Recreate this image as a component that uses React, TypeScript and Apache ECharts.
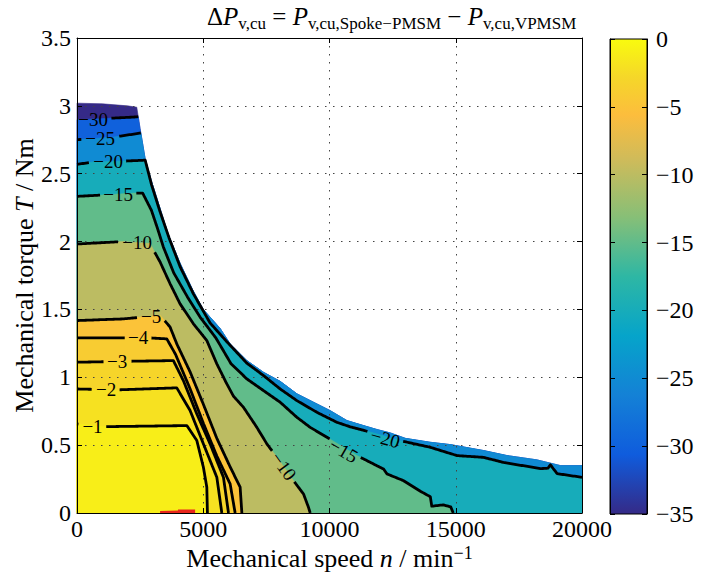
import React, { useEffect, useRef } from "react";
import * as echarts from "echarts";

const FONT = '"Liberation Serif", "DejaVu Serif", "Times New Roman", serif';

// ---- axes ----
const speedRange = [0, 20000];
const speedStep = 5000;
const torqueRange = [0, 3.5];
const torqueStep = 0.5;
const colorRange = [-35, 0];
const colorStep = 5;

// ---- colormap (parula) ----
const parulaStops: [number, string][] = [
  [0, "#352a87"],
  [0.125, "#0f5cdd"],
  [0.25, "#1481d6"],
  [0.375, "#06a4ca"],
  [0.5, "#2eb7a4"],
  [0.625, "#87bf77"],
  [0.75, "#d1bb59"],
  [0.84, "#fcbd3d"],
  [0.92, "#f5d729"],
  [1, "#f9fb0e"],
];

// ---- contour data: [speed n (1/min), torque T (Nm)] ----
const envelope = [
  [0, 3.02], [1000, 3.015], [2000, 3.0], [2367, 2.99], [2497, 2.834], [2696, 2.613],
  [2961, 2.438], [3290, 2.244], [3600, 2.06], [4083, 1.84], [4580, 1.645], [5000, 1.5],
  [5669, 1.36], [6065, 1.246], [6727, 1.123], [7385, 1.037], [8047, 0.97], [8709, 0.878],
  [9367, 0.816], [10029, 0.754], [10691, 0.681], [11349, 0.644], [11880, 0.615],
  [12407, 0.59], [13000, 0.55], [13993, 0.521], [14786, 0.504], [16106, 0.46],
  [17033, 0.423], [18222, 0.391], [19146, 0.349], [20000, 0.349],
];
const line30 = [[0, 2.898], [900, 2.905], [2232, 2.917], [2425, 2.92]];
const line25 = [[0, 2.751], [400, 2.755], [1439, 2.77], [2367, 2.795], [2528, 2.8]];
const line20 = [
  [0, 2.569], [646, 2.586], [1835, 2.593], [2500, 2.598], [2700, 2.6], [2950, 2.42],
  [3280, 2.225], [3650, 2.025], [4083, 1.815], [4610, 1.615], [5272, 1.4], [5934, 1.262],
  [6727, 1.104], [7385, 1.013], [8047, 0.914], [8709, 0.828], [9502, 0.742], [10295, 0.668],
  [10822, 0.635], [11615, 0.596], [12804, 0.533], [13993, 0.484], [15051, 0.423],
  [16094, 0.41], [16887, 0.373], [18353, 0.327], [18650, 0.33], [18750, 0.355],
  [18850, 0.33], [19016, 0.29], [20000, 0.263],
];
const line15 = [
  [0, 2.333], [1200, 2.345], [2300, 2.357], [2600, 2.357], [2950, 2.229], [3200, 2.09],
  [3420, 1.96], [3830, 1.77], [4380, 1.59], [4880, 1.442], [5500, 1.29], [6100, 1.1],
  [6727, 0.988], [7385, 0.902], [8047, 0.816], [8709, 0.705], [9236, 0.631], [9898, 0.558],
  [10500, 0.49], [11087, 0.423], [11745, 0.361], [12142, 0.324], [12277, 0.288],
  [12935, 0.238], [13600, 0.16], [13993, 0.12], [14050, 0.05], [14500, 0.06],
  [14800, 0.045], [14900, 0],
];
const line10 = [
  [0, 1.982], [1800, 2.0], [2900, 1.985], [3050, 1.93], [3290, 1.85], [3687, 1.689],
  [4083, 1.541], [4610, 1.394], [5141, 1.271], [5538, 1.099], [5934, 0.951], [6200, 0.86],
  [6592, 0.779], [7123, 0.631], [7520, 0.509], [8000, 0.39], [8574, 0.238], [8971, 0.14],
  [9169, 0.041], [9236, 0],
];
const line5 = [
  [0, 1.418], [1800, 1.43], [3300, 1.455], [3687, 1.37], [3952, 1.246], [4479, 1.04],
  [5007, 0.8], [5538, 0.55], [6065, 0.34], [6461, 0.19], [6529, 0],
];
const line4 = [
  [0, 1.29], [2894, 1.29], [3556, 1.283], [3900, 1.17], [4479, 0.915], [5007, 0.66],
  [5538, 0.42], [6065, 0.214], [6263, 0],
];
const line3 = [
  [0, 1.111], [2100, 1.118], [3817, 1.123], [4214, 0.975], [4745, 0.73], [5272, 0.509],
  [5800, 0.263], [6000, 0],
];
const line2 = [
  [0, 0.914], [1570, 0.907], [3952, 0.922], [4479, 0.755], [5007, 0.509], [5538, 0.263],
  [5736, 0],
];
const line1 = [
  [0, 0.656], [1040, 0.636], [4349, 0.644], [4745, 0.534], [5007, 0.336], [5141, 0.19],
  [5165, 0],
];
const hotspot = [[3290, 0], [3290, 0.015], [4000, 0.018], [4000, 0.025], [4678, 0.025], [4678, 0]];

// contour labels: [level, n, T, rotation in degrees clockwise]
const contourLabels = [
  [-30, 640, 2.9, 0],
  [-25, 912, 2.757, 0],
  [-20, 1229, 2.59, 0],
  [-15, 1625, 2.347, 0],
  [-10, 2378, 1.99, 0],
  [-5, 2933, 1.445, 0],
  [-4, 2418, 1.29, 0],
  [-3, 1586, 1.115, 0],
  [-2, 1150, 0.91, 0],
  [-1, 614, 0.64, 0],
  [-10, 8186, 0.345, 54],
  [-15, 10560, 0.46, 30],
  [-20, 12209, 0.55, 15],
];

const contourLines = [
  { level: -30, pts: line30 },
  { level: -25, pts: line25 },
  { level: -20, pts: line20 },
  { level: -15, pts: line15 },
  { level: -10, pts: line10 },
  { level: -5, pts: line5 },
  { level: -4, pts: line4 },
  { level: -3, pts: line3 },
  { level: -2, pts: line2 },
  { level: -1, pts: line1 },
];

// ---- helpers ----
function hexToRgb(h: string) {
  const v = parseInt(h.slice(1), 16);
  return [(v >> 16) & 255, (v >> 8) & 255, v & 255];
}
function parula(t: number) {
  t = Math.max(0, Math.min(1, t));
  for (let i = 0; i < parulaStops.length - 1; i++) {
    const [t0, c0] = parulaStops[i];
    const [t1, c1] = parulaStops[i + 1];
    if (t >= t0 && t <= t1) {
      const f = (t - t0) / (t1 - t0);
      const a = hexToRgb(c0), b = hexToRgb(c1);
      const r = a.map((x, k) => Math.round(x + (b[k] - x) * f));
      return `rgb(${r[0]},${r[1]},${r[2]})`;
    }
  }
  return parulaStops[parulaStops.length - 1][1];
}
const levelColor = (lv: number) => parula((lv - colorRange[0]) / (colorRange[1] - colorRange[0]));
const tailAfter = (line: number[][]) => envelope.filter((p) => p[0] > line[line.length - 1][0]);
const xMax = speedRange[1];

const bands = [
  { level: -35, poly: [...envelope, [xMax, 0], [0, 0]] },
  { level: -30, poly: [...line30, ...tailAfter(line30), [xMax, 0], [0, 0]] },
  { level: -25, poly: [...line25, ...tailAfter(line25), [xMax, 0], [0, 0]] },
  { level: -20, poly: [...line20, [xMax, 0], [0, 0]] },
  { level: -15, poly: [...line15, [0, 0]] },
  { level: -10, poly: [...line10, [0, 0]] },
  { level: -5, poly: [...line5, [0, 0]] },
  { level: -4, poly: [...line4, [0, 0]] },
  { level: -3, poly: [...line3, [0, 0]] },
  { level: -2, poly: [...line2, [0, 0]] },
  { level: -1, poly: [...line1, [0, 0]] },
];

const LABEL_SIZE = 19;
const labelText = (lv: number) => (lv < 0 ? "\u2212" + Math.abs(lv) : String(lv));
const labelWidth = (s: string) => {
  let w = 0;
  for (const ch of s) w += ch === "\u2212" ? 0.564 : 0.5;
  return w * LABEL_SIZE;
};

function splitByBoxes(pts: number[][], boxes: any[]) {
  const dense: number[][] = [];
  for (let i = 0; i < pts.length - 1; i++) {
    const [x0, y0] = pts[i];
    const [x1, y1] = pts[i + 1];
    const len = Math.hypot(x1 - x0, y1 - y0);
    const steps = Math.max(1, Math.ceil(len / 1.5));
    for (let s = 0; s < steps; s++) {
      const t = s / steps;
      dense.push([x0 + (x1 - x0) * t, y0 + (y1 - y0) * t]);
    }
  }
  dense.push(pts[pts.length - 1]);
  const runs: number[][][] = [];
  let cur: number[][] = [];
  for (const p of dense) {
    const inside = boxes.some((b) => {
      const dx = p[0] - b.cx, dy = p[1] - b.cy;
      const c = Math.cos(b.a), s = Math.sin(b.a);
      const u = dx * c + dy * s, v = -dx * s + dy * c;
      return Math.abs(u) < b.hw && Math.abs(v) < b.hh;
    });
    if (inside) {
      if (cur.length > 1) runs.push(cur);
      cur = [];
    } else cur.push(p);
  }
  if (cur.length > 1) runs.push(cur);
  return runs;
}

const axisLine = { show: true, onZero: false, lineStyle: { color: "#000", width: 1 } };
const tickIn = { show: true, inside: true, length: 5, lineStyle: { color: "#000", width: 1 } };
const gridDots = { show: true, lineStyle: { color: "#444", width: 1, type: [1.5, 6.5] } };
const tickFont = { color: "#000", fontFamily: FONT, fontSize: 24 };

function buildOption() {
  return {
    animation: false,
    backgroundColor: "#ffffff",
    title: {
      text: "\u0394{i|P}{s|v,cu} = {i|P}{s|v,cu,Spoke\u2212PMSM} \u2212 {i|P}{s|v,cu,VPMSM}",
      left: 207,
      top: 0,
      padding: 0,
      textStyle: {
        fontFamily: FONT, fontSize: 25, fontWeight: "normal", color: "#000", lineHeight: 32,
        rich: {
          i: { fontFamily: FONT, fontSize: 25, fontStyle: "italic", color: "#000", lineHeight: 32 },
          s: { fontFamily: FONT, fontSize: 17, color: "#000", lineHeight: 17, verticalAlign: "bottom" },
        },
      },
    },
    grid: [
      { left: 77, top: 38, width: 505, height: 475, outerBoundsMode: "none", containLabel: false },
      { left: 610, top: 39, width: 37, height: 475, outerBoundsMode: "none", containLabel: false },
    ],
    xAxis: [
      {
        type: "value", gridIndex: 0, min: speedRange[0], max: speedRange[1], interval: speedStep,
        position: "bottom", z: 3, axisLine, axisTick: tickIn,
        axisLabel: { ...tickFont, margin: 4, formatter: (v: number) => String(v) },
        splitLine: gridDots,
        name: "Mechanical speed {i|n} / min{p|\u22121}",
        nameLocation: "middle", nameGap: 31, nameMoveOverlap: false,
        nameTextStyle: {
          fontFamily: FONT, fontSize: 26, color: "#000", lineHeight: 28,
          rich: {
            i: { fontFamily: FONT, fontSize: 26, fontStyle: "italic", color: "#000", lineHeight: 28 },
            p: { fontFamily: FONT, fontSize: 18, color: "#000", lineHeight: 20, verticalAlign: "top" },
          },
        },
      },
      {
        type: "value", gridIndex: 0, min: speedRange[0], max: speedRange[1], interval: speedStep,
        position: "top", z: 3, axisLine, axisTick: tickIn, axisLabel: { show: false },
        splitLine: { show: false },
      },
      { type: "value", gridIndex: 1, min: 0, max: 1, show: false },
    ],
    yAxis: [
      {
        type: "value", gridIndex: 0, min: torqueRange[0], max: torqueRange[1], interval: torqueStep,
        position: "left", z: 3, axisLine, axisTick: tickIn,
        axisLabel: { ...tickFont, margin: 6, formatter: (v: number) => String(v) },
        splitLine: gridDots,
        name: "Mechanical torque {i|T} / Nm",
        nameLocation: "middle", nameGap: 37, nameMoveOverlap: false,
        nameTextStyle: {
          fontFamily: FONT, fontSize: 26, color: "#000", lineHeight: 32,
          rich: {
            i: { fontFamily: FONT, fontSize: 26, fontStyle: "italic", color: "#000", lineHeight: 32 },
          },
        },
      },
      {
        type: "value", gridIndex: 0, min: torqueRange[0], max: torqueRange[1], interval: torqueStep,
        position: "right", z: 3, axisLine, axisTick: tickIn, axisLabel: { show: false },
        splitLine: { show: false },
      },
      {
        type: "value", gridIndex: 1, min: colorRange[0], max: colorRange[1], interval: colorStep,
        position: "right", z: 5, axisLine, axisTick: tickIn,
        axisLabel: {
          ...tickFont, margin: 9,
          formatter: (v: number) => (v < 0 ? "\u2212" + Math.abs(v) : String(v)),
        },
        splitLine: { show: false },
      },
      {
        type: "value", gridIndex: 1, min: colorRange[0], max: colorRange[1], interval: colorStep,
        position: "left", z: 5, axisLine, axisTick: tickIn, axisLabel: { show: false },
        splitLine: { show: false },
      },
    ],
    series: [
      {
        type: "custom", name: "fill", xAxisIndex: 0, yAxisIndex: 0, z: 1, silent: true,
        data: bands.map((_, i) => [i, 0]),
        renderItem: (params: any, api: any) => {
          const b = bands[params.dataIndex];
          const points = b.poly.map((p) => api.coord(p));
          const col = levelColor(b.level);
          return { type: "polygon", shape: { points }, style: { fill: col, stroke: col, lineWidth: 0.6 } };
        },
      },
      {
        type: "custom", name: "hotspot", xAxisIndex: 0, yAxisIndex: 0, z: 1, silent: true,
        data: [[0, 0]],
        renderItem: (params: any, api: any) => ({
          type: "polygon", shape: { points: hotspot.map((p) => api.coord(p)) },
          style: { fill: "#e8261c" },
        }),
      },
      {
        type: "custom", name: "contours", xAxisIndex: 0, yAxisIndex: 0, z: 4, silent: true,
        data: contourLines.map((_, i) => [i, 0]),
        renderItem: (params: any, api: any) => {
          const cl = contourLines[params.dataIndex];
          const pts = cl.pts.map((p) => api.coord(p));
          const labs = contourLabels.filter((l) => l[0] === cl.level);
          const boxes = labs.map((l) => {
            const c = api.coord([l[1], l[2]]);
            const txt = labelText(l[0]);
            return { cx: c[0], cy: c[1], a: (l[3] * Math.PI) / 180, hw: labelWidth(txt) / 2 + 3, hh: 9, txt };
          });
          const runs = splitByBoxes(pts, boxes);
          const children: any[] = runs.map((r) => ({
            type: "polyline",
            shape: { points: r },
            style: { stroke: "#000", lineWidth: 2.8, fill: null, lineJoin: "round" },
          }));
          boxes.forEach((b) => {
            children.push({
              type: "text", x: b.cx, y: b.cy, rotation: -b.a,
              style: {
                text: b.txt, fontFamily: FONT, fontSize: LABEL_SIZE, fill: "#000",
                align: "center", verticalAlign: "middle",
              },
            });
          });
          return { type: "group", children };
        },
      },
      {
        type: "custom", name: "colorbar", xAxisIndex: 2, yAxisIndex: 2, z: 2, silent: true,
        data: [[0, 0]],
        renderItem: (params: any, api: any) => {
          const p0 = api.coord([0, colorRange[1]]);
          const p1 = api.coord([1, colorRange[0]]);
          const stops = parulaStops
            .map(([t, c]) => ({ offset: 1 - t, color: c }))
            .sort((a, b) => a.offset - b.offset);
          return {
            type: "rect",
            shape: { x: p0[0], y: p0[1], width: p1[0] - p0[0], height: p1[1] - p0[1] },
            style: { fill: new echarts.graphic.LinearGradient(0, 0, 0, 1, stops), stroke: "#000", lineWidth: 1 },
          };
        },
      },
    ],
  };
}

export default function App() {
  const ref = useRef<HTMLDivElement>(null);
  useEffect(() => {
    if (!ref.current) return;
    const chart = echarts.init(ref.current, null, { renderer: "svg" });
    chart.setOption(buildOption() as any);
    return () => chart.dispose();
  }, []);
  return (
    <div
      ref={ref}
      style={{ position: "absolute", left: 0, top: 0, width: 707, height: 576, background: "#fff" }}
    />
  );
}
